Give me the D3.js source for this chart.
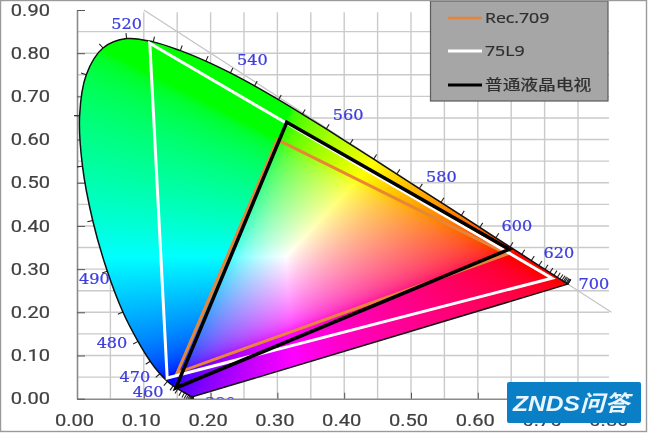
<!DOCTYPE html>
<html><head><meta charset="utf-8">
<style>html,body{margin:0;padding:0;background:#fff}svg{display:block;filter:blur(.35px)}</style>
<script src="https://cdn.jsdelivr.net/npm/d3@7"></script></head><body>
<svg id="c" width="650" height="433"></svg>
<script>
// wavelength (nm) and chromaticity read along the horseshoe
const nm=[380,385,390,395,400,405,410,415,420,425,430,435,440,445,450,455,460,465,470,475,480,485,490,495,500,505,510,515,520,525,530,535,540,545,550,555,560,565,570,575,580,585,590,595,600,605,610,615,620,625,630,635,640,645,650,655,660,665,670,675,680,700];
const locusX=[.1741,.1740,.1738,.1736,.1733,.1730,.1726,.1721,.1714,.1703,.1689,.1669,.1644,.1611,.1566,.1510,.1440,.1355,.1241,.1096,.0913,.0687,.0454,.0235,.0082,.0039,.0139,.0389,.0743,.1142,.1547,.1929,.2296,.2658,.3016,.3373,.3731,.4087,.4441,.4788,.5125,.5448,.5752,.6029,.6270,.6482,.6658,.6801,.6915,.7006,.7079,.7140,.7190,.7230,.7260,.7283,.7300,.7320,.7334,.7344,.7347,.7347];
const locusY=[.0050,.0050,.0049,.0049,.0048,.0048,.0048,.0048,.0051,.0058,.0069,.0086,.0109,.0138,.0177,.0227,.0297,.0399,.0578,.0868,.1327,.2007,.2950,.4127,.5384,.6548,.7502,.8120,.8338,.8262,.8059,.7816,.7543,.7243,.6923,.6589,.6245,.5896,.5547,.5202,.4866,.4544,.4242,.3965,.3725,.3514,.3340,.3197,.3083,.2993,.2920,.2859,.2809,.2770,.2740,.2717,.2700,.2680,.2666,.2656,.2653,.2653];
const labelledNm=[380,460,470,480,490,520,540,560,580,600,620,700];
const seriesNames=["Rec.709","75L9","普通液晶电视"];
const rec709=[[.30,.60],[.644,.335],[.15,.06]];
const tv75L9=[[.109,.823],[.711,.279],[.135,.048]];
const lcdTV=[[.314,.64],[.647,.346],[.148,.025]];
const xTicks=[0,.1,.2,.3,.4,.5,.6,.7,.8];
const yTicks=[0,.1,.2,.3,.4,.5,.6,.7,.8,.9];
const xGrid=[.05,.1,.15,.2,.25,.3,.35,.4,.45,.5,.55,.6,.65,.7,.75];
const yGrid=[.05,.1,.15,.2,.25,.3,.35,.4,.45,.5,.55,.6,.65,.7,.75,.8,.85];
const diagonal=[[.1,.9],[.8,.2]];

// layout
const labelOffset={380:[27,11],460:[-25,11],470:[-25,8],480:[-26,7],490:[-13,13],520:[0,-9.5],540:[22,-8],560:[22,-9],580:[22,-6.5],600:[21,-7],620:[20,-7.5],700:[26,5]};
const seriesColor=["#e8853a","#ffffff","#000000"];
const x=d3.scaleLinear().domain([0,.8]).range([77,611.4]);
const y=d3.scaleLinear().domain([0,.9]).range([398.7,10]);
const svg=d3.select("#c");
const locus=nm.map((n,i)=>[locusX[i],locusY[i]]);
const line=d3.line().x(d=>x(d[0])).y(d=>y(d[1]));
const smooth=d3.line().x(d=>x(d[0])).y(d=>y(d[1])).curve(d3.curveCatmullRom.alpha(.5));
const defs=svg.append("defs");
defs.append("clipPath").attr("id","lc").append("path").attr("d",smooth(locus)+"Z");
defs.append("clipPath").attr("id","plot").append("rect").attr("x",60).attr("y",0).attr("width",590).attr("height",y(0));

svg.append("rect").attr("width",650).attr("height",433).attr("fill","#fff");

// grid
const grid=svg.append("g").attr("stroke","#cacaca").attr("stroke-width",1.4);
grid.selectAll(".v").data(xGrid).join("line")
  .attr("x1",d=>x(d)).attr("x2",d=>x(d)).attr("y1",d=>d<.1?y(.3):y(.895)).attr("y2",y(0));
grid.selectAll(".h").data(yGrid).join("line")
  .attr("x1",x(0)).attr("x2",609).attr("y1",d=>y(d)).attr("y2",d=>y(d));
svg.append("path").attr("d",line(diagonal)).attr("fill","none").attr("stroke","#c4c4c4").attr("stroke-width",1.2);

// axes
function styleAxis(g){
  g.select(".domain").attr("stroke","#8a8a8a").attr("stroke-width",1.6);
  g.selectAll(".tick line").attr("stroke","#555").attr("stroke-width",1);
  g.selectAll("text").attr("font-family","Roboto").attr("font-size",16.5).attr("fill","#404040").attr("stroke","#404040").attr("stroke-width",.2);
}
const ax=svg.append("g").attr("transform",`translate(0,${y(0)})`)
  .call(d3.axisBottom(x).tickValues(xTicks).tickFormat(d3.format(".2f")).tickSizeInner(-6).tickSizeOuter(0).tickPadding(0));
styleAxis(ax);
ax.selectAll("text").attr("dy",0).attr("y",0).attr("transform","translate(-3,27.3) scale(1.22,1)");
const ay=svg.append("g").attr("transform",`translate(${x(0)},0)`)
  .call(d3.axisLeft(y).tickValues(yTicks).tickFormat(d3.format(".2f")).tickSizeInner(-8).tickSizeOuter(0).tickPadding(0));
styleAxis(ay);
ay.selectAll("text").attr("x",0).attr("dy",".34em").attr("transform","translate(-27,-.5) scale(1.22,1)");

// colour field, computed for each pixel from the scales
const W=650,H=433,cv=document.createElement("canvas");cv.width=W;cv.height=H;
const ctx=cv.getContext("2d"),img=ctx.createImageData(W,H);
const gam=v=>v<=.0031308?12.92*v:1.055*Math.pow(v,1/2.4)-.055;
for(let j=0;j<H;j++)for(let i=0;i<W;i++){
  const cx=x.invert(i+.5),cy=Math.max(y.invert(j+.5),.001),X=cx/cy,Z=(1-cx-cy)/cy;
  let r=3.2406*X-1.5372-.4986*Z,g=-.9689*X+1.8758+.0415*Z,b=.0557*X-.2040+1.0570*Z;
  r=Math.max(r,0);g=Math.max(g,0);b=Math.max(b,0);
  const m=Math.max(r,g,b)||1,k=4*(j*W+i);
  img.data[k]=255*gam(r/m);img.data[k+1]=255*gam(g/m);img.data[k+2]=255*gam(b/m);img.data[k+3]=255;
}
ctx.putImageData(img,0,0);
svg.append("image").attr("href",cv.toDataURL()).attr("width",W).attr("height",H).attr("clip-path","url(#lc)");

// locus outline, ticks, labels
const marks=svg.append("g").attr("clip-path","url(#plot)");
function normal(i){
  let a=Math.max(i-1,0),b=Math.min(i+1,locus.length-1);
  let dx=x(locus[b][0])-x(locus[a][0]),dy=y(locus[b][1])-y(locus[a][1]),l=Math.hypot(dx,dy);
  if(l<1.2){ // bunched points: take the direction from a wider span
    a=Math.max(i-5,0);b=Math.min(i+5,locus.length-1);
    dx=x(locus[b][0])-x(locus[a][0]);dy=y(locus[b][1])-y(locus[a][1]);l=Math.hypot(dx,dy)||1;
  }
  return [dy/l,-dx/l];
}
marks.selectAll(".t").data(nm).join("line")
  .attr("x1",(d,i)=>x(locusX[i])).attr("y1",(d,i)=>y(locusY[i]))
  .attr("x2",(d,i)=>x(locusX[i])+normal(i)[0]*5.5).attr("y2",(d,i)=>y(locusY[i])+normal(i)[1]*5.5)
  .attr("stroke","#222").attr("stroke-width",1.1);
marks.append("path").attr("d",smooth(locus)+"Z").attr("fill","none").attr("stroke","#111").attr("stroke-width",1.5);
marks.selectAll(".l").data(labelledNm).join("text")
  .attr("transform",d=>{const i=nm.indexOf(d),o=labelOffset[d];return `translate(${x(locusX[i])+o[0]},${y(locusY[i])+o[1]}) scale(1.15,1)`;})
  .attr("text-anchor","middle").attr("font-family","'DejaVu Serif'").attr("font-size",14).attr("fill","#3d3de0").attr("stroke","#3d3de0").attr("stroke-width",.25).text(d=>d);

// triangles
[rec709,tv75L9,lcdTV].forEach((t,i)=>{
  svg.append("path").attr("d",line(t)+"Z").attr("fill","none")
    .attr("stroke",seriesColor[i]).attr("stroke-width",i==2?3.5:3).attr("stroke-linejoin","miter");
});

// legend
svg.append("rect").attr("x",430.5).attr("y",1).attr("width",177.5).attr("height",100).attr("fill","#a6a6a6").attr("stroke","#5c5c5c").attr("stroke-width",1.2);
const lg=svg.selectAll(".lg").data(seriesNames).join("g").attr("transform",(d,i)=>`translate(0,${[18,51,85][i]})`);
lg.append("line").attr("x1",448).attr("x2",482).attr("stroke",(d,i)=>seriesColor[i]).attr("stroke-width",(d,i)=>i==0?2.5:3);
lg.append("text").attr("transform","translate(485,5) scale(1.18,1)").attr("font-family","'Open Sans','Noto Sans CJK SC'").attr("font-size",15).attr("fill","#2e2e2e").attr("stroke","#2e2e2e").attr("stroke-width",.25).text(d=>d);

// frame and watermark
svg.append("rect").attr("x",.5).attr("y",.5).attr("width",646).attr("height",431).attr("fill","none").attr("stroke","#9a9a9a").attr("stroke-width",1.4);
svg.append("rect").attr("x",507).attr("y",382).attr("width",134).attr("height",41).attr("rx",2).attr("fill","#0b7fc5");
svg.append("text").attr("transform","translate(513,411) scale(1.12,1)").attr("font-family","'Liberation Sans','Noto Sans CJK SC'").attr("font-weight","bold").attr("font-style","italic").attr("font-size",22).attr("fill","#eaf5ff").text("ZNDS问答");
</script></body></html>
